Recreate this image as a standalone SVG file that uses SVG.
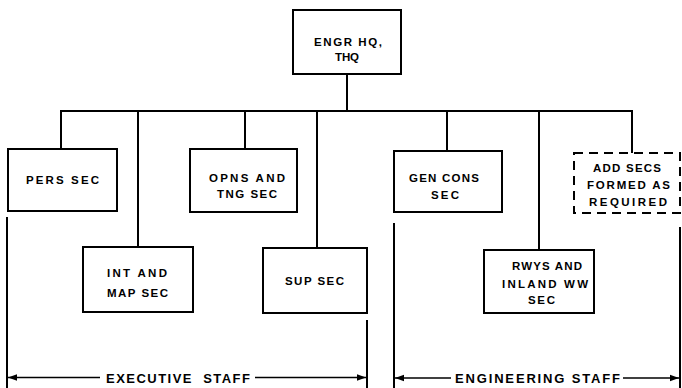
<svg xmlns="http://www.w3.org/2000/svg" width="682" height="388" viewBox="0 0 682 388">
<style>
.box{fill:#fff;stroke:#000;stroke-width:2}
.dash{fill:#fff;stroke:#000;stroke-width:2;stroke-dasharray:9 6}
.ln{fill:none;stroke:#000;stroke-width:2}
.thin{fill:none;stroke:#000;stroke-width:1.5}
text{font-family:"Liberation Sans",Arial,sans-serif;font-weight:bold;fill:#000}
.t{font-size:11.5px;text-anchor:middle}
.s{font-size:13px;white-space:pre}
</style>
<defs>
<marker id="ah" viewBox="0 0 10 10" refX="10" refY="5" markerWidth="6" markerHeight="6" orient="auto" markerUnits="strokeWidth">
<path d="M0,1.5 L10,5 L0,8.5 z" fill="#000"/>
</marker>
</defs>
<g id="connectors">
<line class="ln" x1="347" y1="74" x2="347" y2="111"/>
<line class="ln" x1="60" y1="111" x2="633" y2="111"/>
<line class="ln" x1="61" y1="111" x2="61" y2="149"/>
<line class="ln" x1="138" y1="111" x2="138" y2="247"/>
<line class="ln" x1="245" y1="111" x2="245" y2="149"/>
<line class="ln" x1="317" y1="111" x2="317" y2="248"/>
<line class="ln" x1="447" y1="111" x2="447" y2="151"/>
<line class="ln" x1="539" y1="111" x2="539" y2="250"/>
<line class="ln" x1="632" y1="111" x2="632" y2="153"/>
</g>
<g id="hq"><rect class="box" x="293" y="10" width="108" height="64"/>
<text class="t" x="348" y="46" textLength="68" lengthAdjust="spacing">ENGR HQ,</text>
<text class="t" x="347" y="61" textLength="24" lengthAdjust="spacing">THQ</text></g>
<g id="pers"><rect class="box" x="8" y="149" width="109" height="62"/>
<text class="t" x="62.5" y="184" textLength="73" lengthAdjust="spacing">PERS SEC</text></g>
<g id="opns"><rect class="box" x="190" y="149" width="107" height="63"/>
<text class="t" x="247" y="182" textLength="76" lengthAdjust="spacing">OPNS AND</text>
<text class="t" x="247" y="198" textLength="60" lengthAdjust="spacing">TNG SEC</text></g>
<g id="gen"><rect class="box" x="394" y="151" width="108" height="61"/>
<text class="t" x="444" y="182" textLength="70" lengthAdjust="spacing">GEN CONS</text>
<text class="t" x="445" y="199" textLength="28" lengthAdjust="spacing">SEC</text></g>
<g id="add"><rect class="dash" x="574" y="153" width="106" height="60"/>
<text class="t" x="627" y="172" textLength="68" lengthAdjust="spacing">ADD SECS</text>
<text class="t" x="628.5" y="189" textLength="83" lengthAdjust="spacing">FORMED AS</text>
<text class="t" x="628" y="206" textLength="78" lengthAdjust="spacing">REQUIRED</text></g>
<g id="int"><rect class="box" x="83" y="247" width="110" height="65"/>
<text class="t" x="137" y="277" textLength="60" lengthAdjust="spacing">INT AND</text>
<text class="t" x="137.5" y="297" textLength="61" lengthAdjust="spacing">MAP SEC</text></g>
<g id="sup"><rect class="box" x="263" y="248" width="104" height="65"/>
<text class="t" x="314.5" y="285" textLength="59" lengthAdjust="spacing">SUP SEC</text></g>
<g id="rwys"><rect class="box" x="484" y="250" width="110" height="63"/>
<text class="t" x="547" y="270" textLength="70" lengthAdjust="spacing">RWYS AND</text>
<text class="t" x="545" y="288" textLength="86" lengthAdjust="spacing">INLAND WW</text>
<text class="t" x="541.5" y="304" textLength="27" lengthAdjust="spacing">SEC</text></g>
<g id="staff">
<line class="ln" x1="7" y1="217" x2="7" y2="388"/>
<line class="ln" x1="367" y1="320" x2="367" y2="388"/>
<line class="ln" x1="394" y1="223" x2="394" y2="388"/>
<line class="ln" x1="680" y1="227" x2="680" y2="388"/>
<line class="thin" x1="100" y1="377.5" x2="8" y2="377.5" marker-end="url(#ah)"/>
<line class="thin" x1="255" y1="377.5" x2="366" y2="377.5" marker-end="url(#ah)"/>
<line class="thin" x1="451" y1="378" x2="395" y2="378" marker-end="url(#ah)"/>
<line class="thin" x1="623" y1="378" x2="679" y2="378" marker-end="url(#ah)"/>
<text class="s" x="106" y="383" textLength="144" lengthAdjust="spacing">EXECUTIVE  STAFF</text>
<text class="s" x="455" y="383" textLength="165" lengthAdjust="spacing">ENGINEERING STAFF</text>
</g>
</svg>
